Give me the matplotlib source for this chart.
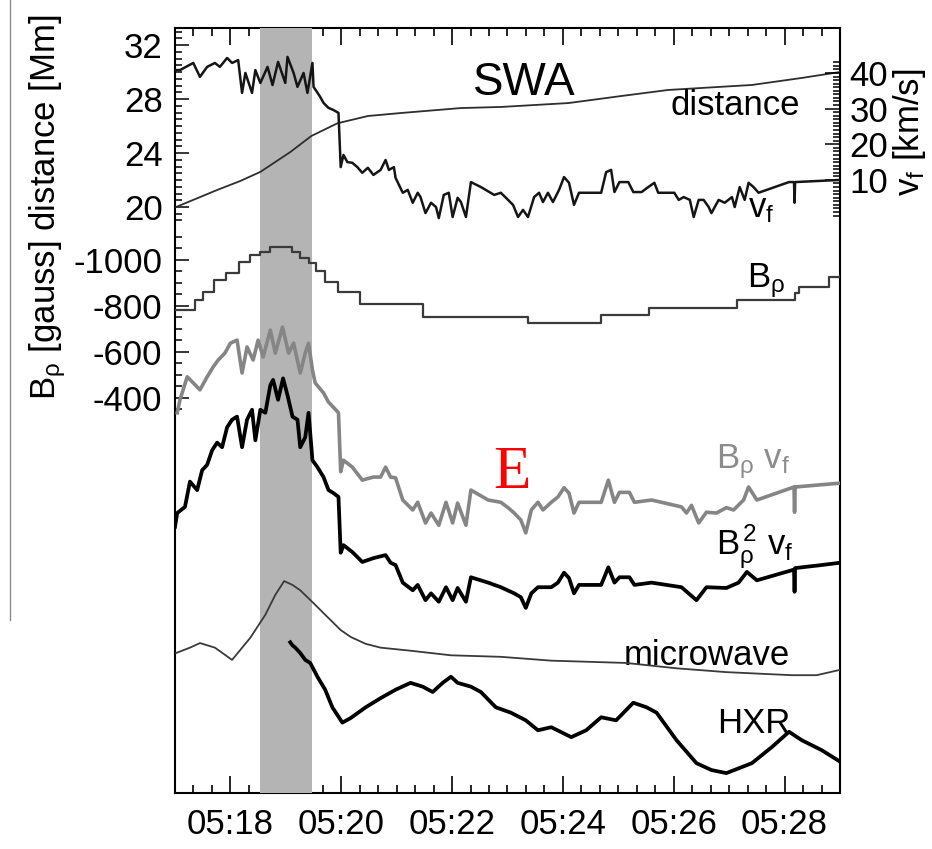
import numpy as np
import matplotlib
matplotlib.use('Agg')
import matplotlib.pyplot as plt
from matplotlib.ticker import FixedLocator, FixedFormatter, NullLocator
from matplotlib.lines import Line2D

plt.rcParams['font.family'] = ['Liberation Sans', 'DejaVu Sans']
plt.rcParams['mathtext.fontset'] = 'custom'
plt.rcParams['mathtext.rm'] = 'Liberation Sans'
plt.rcParams['mathtext.it'] = 'Liberation Sans:italic'
plt.rcParams['mathtext.bf'] = 'Liberation Sans:bold'
plt.rcParams['axes.unicode_minus'] = False

# ---------------- data (time in minutes after 05:00 UT) ----------------
t_dist = [17.02, 17.76, 18.18, 18.54, 19.08, 19.46, 19.93, 20.48, 21.07, 22.16,
          22.88, 24.10, 25.05, 25.90, 27.41, 28.31, 29.00]
dist_mm = [20.0, 21.26, 21.93, 22.6, 24.07, 25.26, 26.2, 26.74, 26.96, 27.33,
           27.41, 27.70, 28.22, 28.67, 29.04, 29.56, 30.0]

t_vf = [17.02, 17.09, 17.33, 17.45, 17.58, 17.72, 17.81, 17.94, 18.03, 18.14,
        18.21, 18.27, 18.39, 18.45, 18.54, 18.67, 18.76, 18.86, 18.99, 19.03,
        19.14, 19.21, 19.32, 19.39, 19.48, 19.50, 19.62, 19.68, 19.77, 19.86,
        19.95, 19.99, 20.04, 20.11, 20.20, 20.29, 20.38, 20.48, 20.58, 20.71,
        20.80, 20.86, 20.95, 20.98, 21.11, 21.20, 21.29, 21.38, 21.43, 21.52,
        21.62, 21.71, 21.76, 21.85, 21.94, 22.01, 22.10, 22.16, 22.25, 22.34,
        22.52, 22.76, 22.88, 23.01, 23.10, 23.19, 23.28, 23.37, 23.48, 23.57,
        23.64, 23.73, 23.82, 23.93, 24.02, 24.11, 24.20, 24.29, 24.69, 24.78,
        24.87, 24.93, 25.02, 25.18, 25.27, 25.42, 25.54, 25.65, 25.72, 26.01,
        26.09, 26.18, 26.29, 26.36, 26.45, 26.54, 26.63, 26.68, 26.81, 26.92,
        27.05, 27.10, 27.19, 27.28, 27.35, 27.44, 27.53, 28.08, 28.17, 28.18,
        28.19, 29.00]
vf_kms = [40.8, 40.8, 42.8, 38.9, 41.7, 42.8, 41.7, 44.2, 42.8, 43.6,
          34.4, 40.0, 34.4, 40.8, 37.2, 41.7, 36.6, 43.1, 37.2, 44.5,
          40.0, 36.1, 40.0, 34.4, 42.8, 36.1, 33.3, 31.6, 30.2, 29.6,
          28.8, 13.6, 17.0, 15.0, 14.8, 13.6, 12.0, 13.4, 11.4, 12.8,
          15.6, 12.8, 13.6, 10.6, 6.4, 7.2, 3.6, 6.4, 5.2, 0.7,
          3.6, 2.4, -0.7, 5.8, 6.4, -0.4, 5.0, 3.8, -0.4, 9.4,
          8.0, 5.8, 6.4, 4.4, 3.0, -0.4, 1.6, -0.4, 5.2, 6.4,
          3.8, 6.4, 3.8, 7.2, 10.8, 9.2, 3.0, 6.4, 6.4, 12.2,
          12.8, 6.6, 9.4, 9.4, 6.6, 6.6, 8.0, 9.2, 6.4, 6.4,
          4.4, 5.2, 4.4, -0.4, 4.4, 4.4, 2.4, 0.7, 4.4, 3.6,
          5.2, 2.4, 8.0, 4.4, 9.2, 8.0, 6.4, 9.4, 9.4, 3.6,
          9.4, 10.0]

t_bp = [17.02, 17.36, 17.51, 17.71, 17.92, 18.16, 18.36, 18.54, 18.72, 19.12,
        19.26, 19.41, 19.55, 19.70, 19.95, 20.33, 21.47, 23.37, 24.69, 25.56,
        27.14, 28.19, 28.26, 28.80, 29.00]
bp_gauss = [-783, -826, -861, -913, -943, -991, -1022, -1035, -1057, -1035,
            -1009, -987, -952, -904, -861, -809, -752, -726, -761, -791,
            -826, -857, -883, -926, -930]

# B_rho * v_f and B_rho^2 * v_f, arbitrary units
t_bv = [17.04, 17.09, 17.22, 17.33, 17.45, 17.58, 17.69, 17.78, 17.90, 18.00,
        18.12, 18.21, 18.30, 18.41, 18.50, 18.59, 18.72, 18.81, 18.94, 19.05,
        19.14, 19.26, 19.35, 19.41, 19.48, 19.53, 19.68, 19.77, 19.90, 19.95,
        19.99, 20.04, 20.20, 20.38, 20.58, 20.71, 20.80, 20.89, 20.98, 21.11,
        21.29, 21.38, 21.52, 21.62, 21.76, 21.89, 22.01, 22.10, 22.25, 22.34,
        22.65, 22.88, 23.01, 23.12, 23.24, 23.33, 23.43, 23.55, 23.64, 23.79,
        23.91, 24.02, 24.11, 24.20, 24.29, 24.69, 24.82, 24.93, 25.02, 25.20,
        25.29, 25.60, 26.14, 26.23, 26.32, 26.45, 26.59, 26.77, 26.95, 27.08,
        27.26, 27.35, 27.50, 28.17, 28.18, 28.19, 28.67, 29.00]
bv_au = [49.7, 51.4, 54.4, 53.6, 52.7, 54.4, 55.7, 56.6, 57.5, 58.8,
         59.2, 54.9, 58.3, 56.6, 59.2, 57.0, 60.5, 57.5, 60.9, 57.5,
         58.8, 54.9, 57.5, 58.8, 55.3, 53.6, 52.3, 51.1, 50.1, 49.7,
         42.0, 43.5, 42.6, 40.9, 41.3, 41.3, 42.6, 41.3, 41.2, 38.3,
         37.0, 38.0, 35.3, 36.6, 35.0, 38.0, 35.3, 37.9, 35.0, 39.6,
         38.3, 38.0, 37.3, 36.6, 35.7, 34.0, 37.0, 38.0, 37.0, 38.0,
         38.7, 39.9, 39.2, 36.6, 38.0, 38.0, 40.9, 38.0, 39.3, 39.3,
         38.0, 38.3, 37.4, 36.6, 37.6, 35.3, 36.7, 36.6, 37.3, 37.0,
         38.3, 40.0, 38.3, 40.0, 36.7, 40.0, 40.3, 40.5]

t_b2v = [17.00, 17.04, 17.18, 17.27, 17.40, 17.49, 17.58, 17.67, 17.76, 17.85,
         17.94, 18.03, 18.12, 18.21, 18.30, 18.39, 18.45, 18.54, 18.63, 18.72,
         18.77, 18.86, 18.95, 19.03, 19.12, 19.21, 19.26, 19.35, 19.41, 19.48,
         19.57, 19.68, 19.77, 19.86, 19.95, 19.99, 20.04, 20.20, 20.38, 20.58,
         20.80, 20.89, 20.98, 21.11, 21.29, 21.38, 21.52, 21.62, 21.76, 21.89,
         22.01, 22.10, 22.25, 22.34, 22.65, 22.88, 23.12, 23.24, 23.33, 23.43,
         23.55, 23.79, 23.91, 24.02, 24.11, 24.20, 24.29, 24.69, 24.82, 24.93,
         25.02, 25.20, 25.29, 25.60, 26.14, 26.41, 26.59, 26.95, 27.17, 27.32,
         27.50, 28.17, 28.18, 28.19, 28.67, 29.00]
b2v_au = [34.8, 36.6, 37.4, 40.7, 39.6, 42.2, 42.9, 44.8, 45.8, 45.2,
          47.8, 48.8, 49.2, 45.2, 48.8, 50.1, 46.1, 50.1, 49.7, 53.3,
          54.0, 51.4, 54.2, 52.0, 49.2, 48.8, 45.2, 46.5, 49.7, 43.5,
          42.6, 41.3, 39.6, 39.2, 38.7, 31.4, 32.4, 31.5, 30.2, 30.7,
          31.1, 30.1, 29.8, 27.5, 26.5, 27.2, 25.2, 26.1, 25.0, 26.9,
          25.2, 26.8, 25.0, 28.2, 27.5, 26.9, 26.1, 25.6, 24.2, 26.1,
          26.9, 26.9, 27.5, 28.8, 28.1, 26.1, 27.2, 27.2, 29.5, 27.5,
          28.2, 28.2, 27.2, 27.5, 26.9, 25.2, 26.9, 26.8, 27.5, 28.9,
          27.8, 29.2, 26.3, 29.4, 29.8, 30.1]

# microwave and hard X-ray flux, arbitrary units
t_mw = [17.02, 17.27, 17.45, 17.72, 18.03, 18.36, 18.63, 18.81, 18.97, 19.12,
        19.26, 19.53, 19.71, 19.99, 20.17, 20.44, 20.71, 21.25, 21.98, 22.88,
        23.79, 25.14, 26.05, 26.95, 28.13, 28.58, 29.00]
mw_au = [18.3, 19.0, 19.6, 19.0, 17.4, 20.3, 23.3, 25.9, 27.7, 27.2,
         26.5, 24.6, 23.3, 21.3, 20.4, 19.5, 19.0, 18.6, 18.0, 17.8,
         17.3, 17.0, 16.3, 15.8, 15.4, 15.4, 16.1]

t_hxr = [19.08, 19.12, 19.17, 19.26, 19.35, 19.44, 19.57, 19.71, 19.84, 20.02,
         20.17, 20.44, 20.71, 20.98, 21.25, 21.47, 21.65, 21.83, 21.98, 22.10,
         22.34, 22.52, 22.79, 23.06, 23.33, 23.55, 23.79, 24.15, 24.42, 24.69,
         24.96, 25.27, 25.51, 25.69, 26.05, 26.41, 26.68, 26.95, 27.41, 27.77,
         28.08, 28.31, 28.67, 29.00]
hxr_au = [19.7, 19.3, 19.0, 18.3, 17.4, 17.0, 15.2, 13.5, 11.2, 9.2,
          9.8, 11.2, 12.4, 13.5, 14.4, 13.9, 13.2, 14.4, 15.2, 14.4,
          13.9, 13.2, 11.2, 10.5, 9.5, 8.2, 8.6, 7.3, 8.2, 9.9,
          9.5, 11.8, 11.2, 10.5, 6.9, 3.9, 3.0, 2.6, 3.9, 6.0,
          8.0, 6.9, 5.6, 4.1]

band_start, band_end = 18.54, 19.47
x_ticks = [18, 20, 22, 24, 26, 28]
x_labels = ['05:18', '05:20', '05:22', '05:24', '05:26', '05:28']
dist_ticks = [20, 24, 28, 32]
bp_ticks = [-1000, -800, -600, -400]
vf_ticks = [10, 20, 30, 40]

# ---------------- figure ----------------
FS = 25
fig = plt.figure(figsize=(9.32, 8.49), dpi=100)
ax = fig.add_axes([175/932, 56/849, 665/932, 765/849])
ax.set_xlim(17, 29)
ax.set_ylim(-23.41, 33.26)

for s in ax.spines.values():
    s.set_linewidth(1.5)
    s.set_zorder(2.5)

# shaded interval (drawn over the frame, like the original)
ax.axvspan(band_start, band_end, color='#b4b4b4', lw=0, zorder=2.7)

# x axis ticks
ax.xaxis.set_major_locator(FixedLocator(x_ticks))
ax.xaxis.set_major_formatter(FixedFormatter(x_labels))
ax.xaxis.set_minor_locator(FixedLocator(np.arange(17, 29.001, 1/3)))
ax.tick_params(axis='x', which='both', direction='in', top=True, bottom=True,
               width=1.2, labelsize=FS, pad=11)
ax.tick_params(axis='x', which='major', length=12)
ax.tick_params(axis='x', which='minor', length=6)

# distance axis (left)
ax.yaxis.set_major_locator(FixedLocator(dist_ticks))
ax.yaxis.set_minor_locator(FixedLocator(np.arange(19.0, 33.01, 0.5)))
ax.tick_params(axis='y', which='both', direction='in', left=True, right=False,
               width=1.1, labelsize=FS, pad=9)
ax.tick_params(axis='y', which='major', length=10)
ax.tick_params(axis='y', which='minor', length=5)
ax.plot(t_dist, dist_mm, color='#2e2e2e', lw=1.3, zorder=3)

def twin(a):
    t = a.twinx()
    for s in t.spines.values():
        s.set_visible(False)
    t.set_xlim(17, 29)
    return t

# B_rho axis (left, reversed)
axB = twin(ax)
axB.set_ylim(1317.5, -2008.7)
axB.yaxis.tick_left()
axB.yaxis.set_major_locator(FixedLocator(bp_ticks))
axB.yaxis.set_minor_locator(FixedLocator(np.arange(-1100, -349, 50)))
axB.tick_params(axis='y', which='both', direction='in', width=1.1,
                labelsize=FS, pad=9)
axB.tick_params(axis='y', which='major', length=10)
axB.tick_params(axis='y', which='minor', length=5)
axB.plot(t_bp, bp_gauss, color='#3a3a3a', lw=1.6, drawstyle='steps-post', zorder=3)

# v_f axis (right)
axV = twin(ax)
axV.set_ylim(-161.9, 52.6)
axV.yaxis.tick_right()
axV.yaxis.set_major_locator(FixedLocator(vf_ticks))
axV.yaxis.set_minor_locator(FixedLocator(np.arange(0, 43.1, 1)))
axV.tick_params(axis='y', which='both', direction='in', width=1.1,
                labelsize=FS, pad=7)
axV.tick_params(axis='y', which='major', length=11)
axV.tick_params(axis='y', which='minor', length=5)
axV.plot(t_vf, vf_kms, color='#151515', lw=1.8, zorder=3)

# products (arbitrary units)
axP = twin(ax)
axP.set_ylim(0, 100)
axP.yaxis.set_major_locator(NullLocator())
axP.plot(t_bv, bv_au, color='#858585', lw=2.6, zorder=3)
axP.plot(t_b2v, b2v_au, color='#000000', lw=2.7, zorder=3)

# microwave and HXR (arbitrary units)
axX = twin(ax)
axX.set_ylim(0, 100)
axX.yaxis.set_major_locator(NullLocator())
axX.plot(t_mw, mw_au, color='#3a3a3a', lw=1.3, zorder=3)
axX.plot(t_hxr, hxr_au, color='#000000', lw=2.7, zorder=3)

for a in (axB, axV, axP, axX):
    a.tick_params(axis='x', which='both', bottom=False, top=False,
                  labelbottom=False, labeltop=False)

# ---------------- annotations ----------------
tr = ax.transAxes
ax.text(0.525, 0.913, 'SWA', transform=tr, fontsize=33, ha='center', va='baseline', zorder=5)
ax.text(0.843, 0.886, 'distance', transform=tr, fontsize=FS, ha='center', va='baseline', zorder=5)
ax.text(0.862, 0.753, r'v$_\mathrm{f}$', transform=tr, fontsize=FS, ha='left', va='baseline', zorder=5)
ax.text(0.860, 0.661, r'B$_\mathrm{ρ}$', transform=tr, fontsize=FS, ha='left', va='baseline', zorder=5)
ax.text(0.813, 0.425, r'B$_\mathrm{ρ}$ v$_\mathrm{f}$', transform=tr, fontsize=FS, ha='left',
        va='baseline', color='#8c8c8c', zorder=5)
ax.text(0.813, 0.311, r'B$_\mathrm{ρ}^{\,2}$ v$_\mathrm{f}$', transform=tr, fontsize=FS, ha='left',
        va='baseline', zorder=5)
ax.text(0.675, 0.167, 'microwave', transform=tr, fontsize=FS, ha='left', va='baseline', zorder=5)
ax.text(0.815, 0.078, 'HXR', transform=tr, fontsize=FS, ha='left', va='baseline', zorder=5)
ax.text(0.507, 0.399, 'E', transform=tr, fontsize=44, ha='center', va='baseline',
        color='red', family=['Liberation Serif', 'DejaVu Serif'], zorder=6)

fig.text(48/932, 1 - 207/849, r'B$_\mathrm{ρ}$ [gauss] distance [Mm]', rotation=90,
         fontsize=FS, ha='center', va='center')
fig.text(909/932, 1 - 132/849, r'v$_\mathrm{f}$ [km/s]', rotation=90,
         fontsize=FS, ha='center', va='center')

fig.add_artist(Line2D([10/932, 10/932], [1.0, 1 - 620/849], transform=fig.transFigure,
                      color='#8a8a8a', lw=1.0))

fig.savefig('out.png', dpi=100)
